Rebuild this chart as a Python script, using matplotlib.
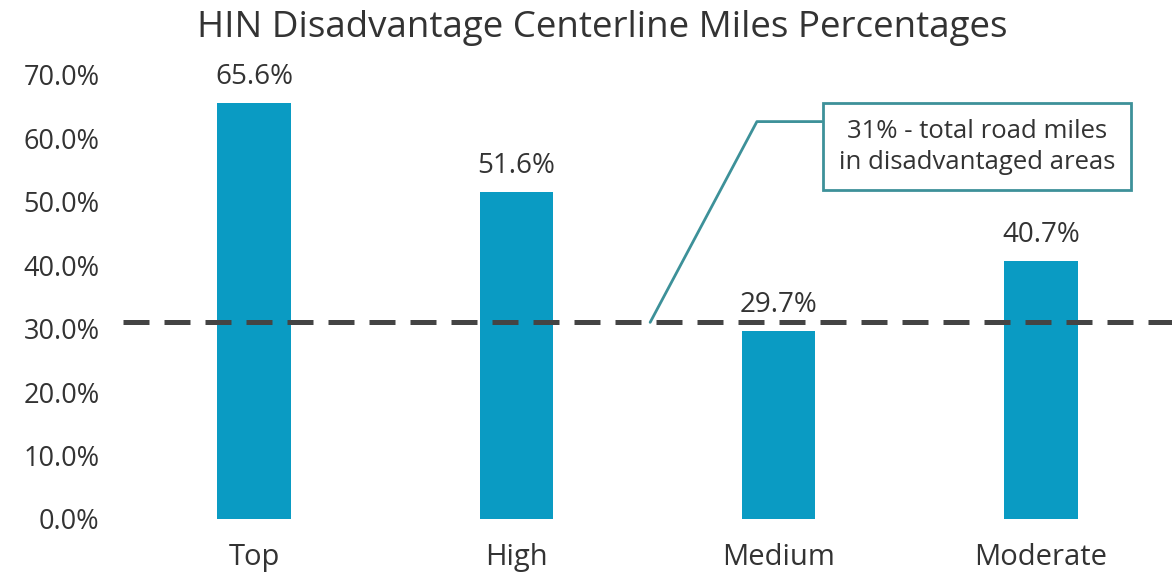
import matplotlib
matplotlib.use("Agg")
import matplotlib.pyplot as plt
import numpy as np

plt.rcParams['font.family'] = ['Open Sans', 'DejaVu Sans']

# HIN tiers and share of centerline miles in disadvantaged areas (%)
tiers = ["Top", "High", "Medium", "Moderate"]
pct_disadvantaged = [65.6, 51.6, 29.7, 40.7]
overall_pct = 31.0
y_ticks = [0, 10, 20, 30, 40, 50, 60, 70]

bar_color = "#0a9bc3"
text_color = "#333333"
callout_color = "#3d9199"

fig = plt.figure(figsize=(11.72, 5.75), dpi=100)
ax = fig.add_axes([0.105, 0.0974, 0.895, 0.7722])

x = np.arange(len(tiers))
bars = ax.bar(x, pct_disadvantaged, width=0.28, color=bar_color, zorder=2)

# value labels on top of each bar
for xi, v in zip(x, pct_disadvantaged):
    ax.text(xi, v + 1.8, "{:.1f}%".format(v), ha="center", va="bottom",
            fontsize=20, color=text_color)

# overall share as a dashed reference line
ax.axhline(overall_pct, color="#444444", lw=3.6, ls=(0, (5.2, 3.0)), zorder=3)

ax.annotate("31% - total road miles\nin disadvantaged areas",
            xy=(1.51, overall_pct), xytext=(2.756, 58.7),
            textcoords="data", ha="center", va="center",
            fontsize=18.5, color=text_color, linespacing=1.3,
            bbox=dict(boxstyle="square,pad=0.62", fc="white",
                      ec=callout_color, lw=2),
            arrowprops=dict(arrowstyle="-", color=callout_color, lw=2,
                            relpos=(0, 0.95), shrinkA=0, shrinkB=0,
                            connectionstyle="angle,angleA=180,angleB=62,rad=0"),
            zorder=4)

ax.set_xlim(-0.5, 3.5)
ax.set_ylim(0, 70)
ax.set_yticks(y_ticks)
ax.set_yticklabels(["{:.1f}%".format(t) for t in y_ticks])
ax.set_xticks(x)
ax.set_xticklabels(tiers)
ax.tick_params(axis="y", length=0, pad=17, labelsize=19.5, labelcolor=text_color)
ax.tick_params(axis="x", length=0, pad=17, labelsize=21, labelcolor=text_color)
for s in ax.spines.values():
    s.set_visible(False)

fig.text(0.514, 0.952, "HIN Disadvantage Centerline Miles Percentages",
         ha="center", va="center", fontsize=26.5, color=text_color)

fig.savefig("out.png", dpi=100)
